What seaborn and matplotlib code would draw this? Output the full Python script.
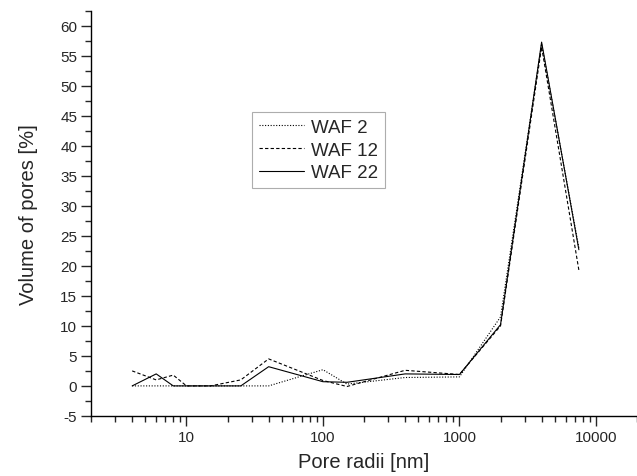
import matplotlib
matplotlib.use('Agg')
import matplotlib.pyplot as plt
import matplotlib.ticker as mticker
import seaborn as sns
import pandas as pd

radii = [4, 6, 8, 10, 15, 25, 40, 100, 150, 400, 1000, 2000, 4000, 7500]
waf2 = [0, 0, 0, 0, 0, 0, 0, 2.7, 0.3, 1.4, 1.5, 11.5, 57.0, 23.0]
waf12 = [2.5, 1.0, 1.8, 0, 0, 1.0, 4.5, 0.9, -0.1, 2.6, 1.9, 10.0, 56.5, 19.3]
waf22 = [0, 2.0, 0, 0, 0, 0, 3.2, 0.7, 0.6, 2.0, 1.9, 10.2, 57.3, 22.7]
labels = ['WAF 2', 'WAF 12', 'WAF 22']

sns.set_style('ticks')
plt.rcParams['font.family'] = ['Liberation Sans', 'DejaVu Sans']
plt.rcParams['axes.unicode_minus'] = False

data = pd.DataFrame({
    'radius': radii * 3,
    'volume': waf2 + waf12 + waf22,
    'sample': [labels[0]] * len(radii) + [labels[1]] * len(radii) + [labels[2]] * len(radii),
})

fig = plt.figure(figsize=(6.37, 4.77), dpi=100)
ax = fig.add_axes([0.143, 0.126, 0.857, 0.849])

sns.lineplot(data=data, x='radius', y='volume', style='sample', color='black',
             dashes={labels[0]: (1, 1.5), labels[1]: (3, 2), labels[2]: ''},
             linewidth=0.8, ax=ax)

ax.set_xscale('log')
ax.set_xlim(2, 20000)
ax.set_ylim(-5, 62.5)
ax.xaxis.set_major_locator(mticker.LogLocator(base=10, numticks=10))
ax.xaxis.set_minor_locator(mticker.LogLocator(base=10, subs=range(2, 10), numticks=20))
ax.xaxis.set_major_formatter(mticker.FuncFormatter(lambda v, p: f'{v:g}'))
ax.xaxis.set_minor_formatter(mticker.NullFormatter())
ax.yaxis.set_major_locator(mticker.MultipleLocator(5))
ax.yaxis.set_minor_locator(mticker.MultipleLocator(2.5))
ax.yaxis.set_major_formatter(mticker.FuncFormatter(lambda v, p: f'{v:g}'))

sns.despine(ax=ax)
for s in ['left', 'bottom']:
    ax.spines[s].set_linewidth(1.0)
    ax.spines[s].set_color('black')
ax.tick_params(which='major', length=7, width=1, labelsize=11, direction='out', pad=3)
ax.tick_params(which='minor', length=4, width=1, direction='out')

ax.set_xlabel('Pore radii [nm]', fontsize=14.5, labelpad=6)
ax.set_ylabel('Volume of pores [%]', fontsize=14.5, labelpad=16)

leg = ax.legend(title=None, loc='upper left', bbox_to_anchor=(0.295, 0.75),
                fontsize=13.5, frameon=True, fancybox=False, handlelength=2.4,
                handletextpad=0.4, borderaxespad=0, labelspacing=0.3,
                borderpad=0.35)
leg.get_frame().set_edgecolor('#999999')
leg.get_frame().set_linewidth(0.8)

fig.savefig('out.png', dpi=100)
